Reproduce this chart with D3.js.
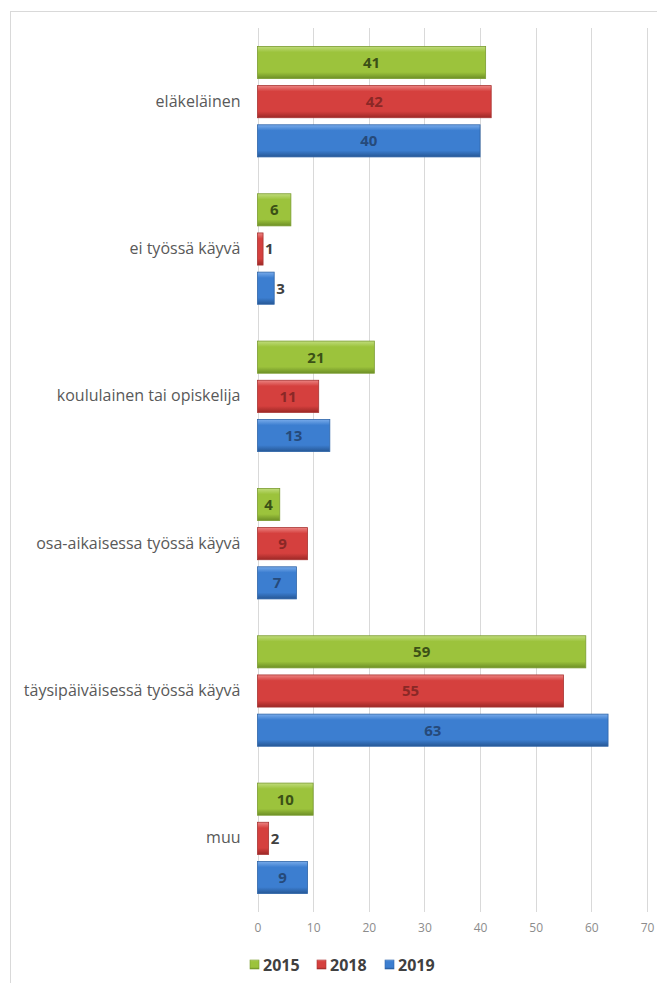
<!DOCTYPE html>
<html>
<head>
<meta charset="utf-8">
<script src="https://cdn.jsdelivr.net/npm/d3@7"></script>
<style>
  body { margin: 0; background: #fff; }
  svg { display: block; }
</style>
</head>
<body>
<script>
// data
var categories = ["eläkeläinen", "ei työssä käyvä", "koululainen tai opiskelija",
  "osa-aikaisessa työssä käyvä", "täysipäiväisessä työssä käyvä", "muu"];
var series = ["2015", "2018", "2019"];
var values2015 = [41, 6, 21, 4, 59, 10];
var values2018 = [42, 1, 11, 9, 55, 2];
var values2019 = [40, 3, 13, 7, 63, 9];
var xTicks = [0, 10, 20, 30, 40, 50, 60, 70];

var seriesValues = [values2015, values2018, values2019];

// colours per series: top, base, bottom, label
var colors = {
  "2015": { top: "#c0dc7c", base: "#9cc33c", bottom: "#6d8f26", stroke: "#7a9c30", label: "#3b5116" },
  "2018": { top: "#ec8482", base: "#d5403e", bottom: "#9c2826", stroke: "#a83432", label: "#8a2826" },
  "2019": { top: "#78abea", base: "#3c7ed0", bottom: "#265795", stroke: "#2f65a8", label: "#264a7a" }
};

var W = 657, H = 983;
var svg = d3.select("body").append("svg")
  .attr("width", W)
  .attr("height", H);

// outer frame (cut off at right/bottom)
svg.append("rect")
  .attr("x", 10.5)
  .attr("y", 11.5)
  .attr("width", 700)
  .attr("height", 1000)
  .attr("fill", "none")
  .attr("stroke", "#d9d9d9");

var defs = svg.append("defs");
series.forEach(function (s) {
  var c = colors[s];
  var g = defs.append("linearGradient")
    .attr("id", "grad" + s)
    .attr("x1", 0).attr("y1", 0).attr("x2", 0).attr("y2", 1);
  g.append("stop").attr("offset", "0%").attr("stop-color", c.top);
  g.append("stop").attr("offset", "18%").attr("stop-color", c.base);
  g.append("stop").attr("offset", "80%").attr("stop-color", c.base);
  g.append("stop").attr("offset", "100%").attr("stop-color", c.bottom);
});

var plotLeft = 257.5, plotRight = 647, plotTop = 28, plotBottom = 912;

var x = d3.scaleLinear().domain([0, 70]).range([plotLeft, plotRight]);
var y0 = d3.scaleBand().domain(categories).range([plotTop, plotBottom])
  .paddingInner(0.25).paddingOuter(0.125);
var y1 = d3.scaleBand().domain(series).range([0, y0.bandwidth()]).paddingInner(0.18);

// gridlines
svg.append("g")
  .selectAll("line")
  .data(xTicks)
  .join("line")
  .attr("x1", function (d) { return Math.round(x(d)) + 0.5; })
  .attr("x2", function (d) { return Math.round(x(d)) + 0.5; })
  .attr("y1", plotTop)
  .attr("y2", plotBottom)
  .attr("stroke", "#d9d9d9")
  .attr("stroke-width", 1);

// x axis tick labels
var xAxis = svg.append("g")
  .attr("transform", "translate(0," + (plotBottom + 11) + ")")
  .call(d3.axisBottom(x).tickValues(xTicks).tickSize(0).tickPadding(0));
xAxis.select(".domain").remove();
xAxis.selectAll("text")
  .attr("fill", "#8c8c8c")
  .style("font-family", "'Open Sans', sans-serif")
  .style("font-size", "12px");

// category labels
var yAxis = svg.append("g")
  .attr("transform", "translate(" + (plotLeft - 17) + ",0)")
  .call(d3.axisLeft(y0).tickSize(0).tickPadding(0));
yAxis.select(".domain").remove();
yAxis.selectAll("text")
  .attr("fill", "#595959")
  .style("font-family", "'Open Sans', sans-serif")
  .style("font-size", "16px");

// bars
var rows = [];
categories.forEach(function (cat, i) {
  series.forEach(function (s, j) {
    rows.push({ cat: cat, series: s, value: seriesValues[j][i] });
  });
});

var bars = svg.append("g")
  .selectAll("g")
  .data(rows)
  .join("g")
  .attr("transform", function (d) { return "translate(0," + (y0(d.cat) + y1(d.series)) + ")"; });

bars.append("rect")
  .attr("x", x(0))
  .attr("y", 0)
  .attr("width", function (d) { return x(d.value) - x(0); })
  .attr("height", y1.bandwidth())
  .attr("fill", function (d) { return "url(#grad" + d.series + ")"; })
  .attr("stroke", function (d) { return colors[d.series].stroke; })
  .attr("stroke-width", 0.8);

bars.append("text")
  .attr("x", function (d) {
    return d.value < 4 ? x(d.value) + 2 : (x(0) + x(d.value)) / 2;
  })
  .attr("y", y1.bandwidth() / 2)
  .attr("dy", "0.36em")
  .attr("text-anchor", function (d) { return d.value < 4 ? "start" : "middle"; })
  .attr("fill", function (d) { return d.value < 4 ? "#404040" : colors[d.series].label; })
  .style("font-family", "'Open Sans', sans-serif")
  .style("font-size", "15px")
  .style("font-weight", "bold")
  .text(function (d) { return d.value; });

// legend
var legendX = [250, 317, 385];
var legend = svg.append("g")
  .selectAll("g")
  .data(series)
  .join("g")
  .attr("transform", function (d, i) { return "translate(" + legendX[i] + ",965)"; });

legend.append("rect")
  .attr("x", 0)
  .attr("y", -5)
  .attr("width", 9)
  .attr("height", 9)
  .attr("fill", function (d) { return "url(#grad" + d + ")"; })
  .attr("stroke", function (d) { return colors[d].stroke; })
  .attr("stroke-width", 0.6);

legend.append("text")
  .attr("x", 13)
  .attr("y", 0)
  .attr("dy", "0.36em")
  .attr("fill", "#404040")
  .style("font-family", "'Open Sans', sans-serif")
  .style("font-size", "16px")
  .style("font-weight", "bold")
  .text(function (d) { return d; });
</script>
</body>
</html>
